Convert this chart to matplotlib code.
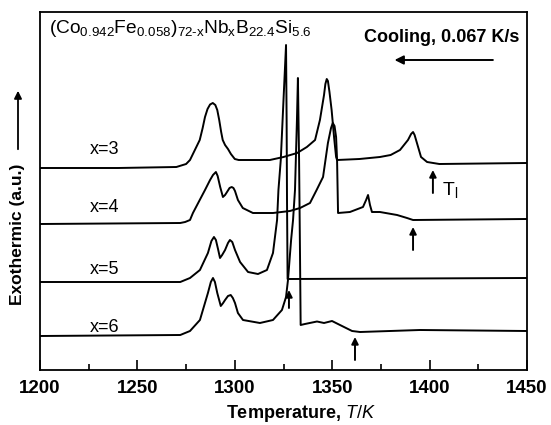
import matplotlib
matplotlib.use("Agg")
import matplotlib.pyplot as plt
from matplotlib.patches import FancyArrowPatch
from matplotlib.ticker import MultipleLocator

plt.rcParams['font.family'] = ['Liberation Sans', 'DejaVu Sans']
plt.rcParams['mathtext.fontset'] = 'custom'
plt.rcParams['mathtext.rm'] = 'Liberation Sans'
plt.rcParams['mathtext.it'] = 'Liberation Sans:italic'
plt.rcParams['mathtext.bf'] = 'Liberation Sans:bold'

# ---- data (temperature in K, exothermic signal in a.u., curves offset) ----
T_x3 = [1200, 1240, 1270, 1275, 1277, 1279.5, 1282, 1283.5, 1284.7, 1286, 1287.3, 1288.7,
        1290, 1291, 1292, 1293, 1293.8, 1295, 1296.5, 1298, 1300, 1302, 1308, 1318, 1325,
        1332, 1337, 1341.2, 1343.7, 1345.8, 1346.5, 1347.2, 1347.8, 1348.6, 1349.7, 1351,
        1352, 1352.5, 1364, 1374.5, 1380, 1384.8, 1388.9, 1390.5, 1391.5, 1392.3, 1393.5,
        1395.6, 1398.7, 1405, 1450]
S_x3 = [202, 202, 203, 206, 210, 220, 230, 242, 253, 261, 265.5, 267,
        265, 260, 250, 238, 230, 225, 221, 216, 211, 210, 210, 210, 213,
        217, 223, 230, 250, 275, 286, 291, 289, 278, 260, 232,
        213, 210, 211, 213, 215, 220, 230, 236, 238, 235, 227,
        213, 208, 206, 207]

T_x4 = [1200, 1272, 1274.5, 1277, 1278.5, 1282, 1284.7, 1287.3, 1288.8, 1290.3, 1291.2,
        1292.5, 1293.9, 1295, 1296, 1297.3, 1298.4, 1299.3, 1300.1, 1301.6, 1304.1, 1309.3,
        1319.6, 1328.3, 1333.5, 1338.6, 1342, 1345.3, 1347.8, 1349.4, 1350.3, 1351.2, 1352,
        1352.5, 1353, 1359.1, 1365.8, 1367.4, 1368.4, 1369.4, 1370.4, 1374.5, 1383.3, 1388.4,
        1391.5, 1450]
S_x4 = [146, 147, 148, 150, 157, 170, 180, 190, 195, 198, 194,
        183, 173, 175, 178, 182, 183, 182, 179, 170, 162, 157,
        157, 159, 162, 167, 180, 193, 227, 242, 247, 244, 233,
        210, 157, 158, 163, 170, 175, 165, 158, 158, 155, 152,
        150, 151]

T_x5 = [1200, 1272, 1277, 1282.1, 1286.2, 1288, 1289.3, 1290.3, 1291.5, 1292.4, 1293.5, 1295,
        1296.5, 1297.5, 1298.7, 1300.1, 1302.7, 1306.8, 1311.9, 1316.5, 1319.6, 1321.7, 1322.4,
        1323.6, 1325, 1326.3, 1326.6, 1326.8, 1327.1, 1328.3, 1450]
S_x5 = [88, 88, 92, 100, 117, 129, 133, 130, 120, 112, 115, 120,
        127, 130, 128, 120, 108, 98, 96, 100, 117, 150, 180,
        210, 270, 325, 250, 170, 91, 91, 92]

T_x6 = [1200, 1272, 1277, 1282.1, 1286.2, 1287.7, 1288.8, 1289.8, 1291, 1292.8, 1294, 1295,
        1296.5, 1297.9, 1299, 1300.1, 1301.6, 1304.2, 1312.9, 1319.6, 1324.2, 1326.3, 1327.3,
        1328.9, 1329.9, 1330.9, 1331.9, 1332.4, 1333, 1333.5, 1333.8, 1336, 1342.2, 1345.8,
        1349.9, 1354, 1360.2, 1364.3, 1395, 1450]
S_x6 = [34, 35, 39, 50, 77, 88, 92, 88, 77, 64, 67, 70,
        74, 75, 72, 67, 57, 50, 47, 50, 60, 73, 90,
        130, 150, 180, 250, 292, 210, 110, 45, 46, 48.5, 47,
        49, 45, 39, 38, 40, 39]

curve_T = [T_x3, T_x4, T_x5, T_x6]
curve_S = [S_x3, S_x4, S_x5, S_x6]
curve_labels = ['x=3', 'x=4', 'x=5', 'x=6']
label_T = 1233
label_S = [220, 162, 100, 42]

# liquidus arrows: (T, tail signal, head signal)
arrow_T = [1401.7, 1391.5, 1327.8, 1361.7]
arrow_tail = [177, 120, 62, 10]
arrow_head = [200, 143, 80, 33]

x_ticks = [1200, 1250, 1300, 1350, 1400, 1450]

# ---- figure ----
fig = plt.figure(figsize=(5.51, 4.25), dpi=100)
ax = fig.add_axes([40 / 551, 55 / 425, 487 / 551, 358 / 425])

for T, S in zip(curve_T, curve_S):
    ax.plot(T, S, color='black', lw=1.4, solid_joinstyle='round')

for lab, s in zip(curve_labels, label_S):
    ax.text(label_T, s, lab, ha='center', va='center', fontsize=13)

for t, a, b in zip(arrow_T, arrow_tail, arrow_head):
    ax.annotate('', xy=(t, b), xytext=(t, a),
                arrowprops=dict(arrowstyle='-|>', lw=1.4, color='black',
                                mutation_scale=10, shrinkA=0, shrinkB=0))

ax.text(1406.4, 175, r'T$_{\mathregular{l}}$', fontsize=14, ha='left', va='baseline')

ax.text(1204.5, 337,
        '(Co$_{\\mathregular{0.942}}$Fe$_{\\mathregular{0.058}}$)$_{\\mathregular{72\u2010x}}$'
        'Nb$_{\\mathregular{x}}$B$_{\\mathregular{22.4}}$Si$_{\\mathregular{5.6}}$',
        fontsize=13.8, ha='left', va='baseline')

ax.text(1446, 332, 'Cooling, 0.067 K/s', fontsize=13, fontweight='bold',
        ha='right', va='center')
ax.annotate('', xy=(1382, 310), xytext=(1432.5, 310),
            arrowprops=dict(arrowstyle='-|>', lw=1.4, color='black',
                            mutation_scale=13, shrinkA=0, shrinkB=0))

ax.set_xlim(1200, 1450)
ax.set_ylim(0, 358)
ax.set_xticks(x_ticks)
ax.xaxis.set_minor_locator(MultipleLocator(25))
ax.set_yticks([])
ax.tick_params(axis='x', which='major', direction='in', length=7, width=1.2,
               labelsize=13.5, pad=7)
ax.tick_params(axis='x', which='minor', direction='in', length=4, width=1.2)
for lbl in ax.get_xticklabels():
    lbl.set_fontweight('bold')
for sp in ax.spines.values():
    sp.set_linewidth(1.3)

fig.text(301 / 551, 7 / 425, r'Temperature, $\mathit{T/K}$', fontsize=13,
         fontweight='bold', ha='center', va='baseline')

fig.text(18 / 551, 191 / 425, 'Exothermic (a.u.)', fontsize=12.5, fontweight='bold',
         rotation=90, ha='center', va='center')
fig.patches.append(FancyArrowPatch(
    (18 / 551, 273 / 425), (18 / 551, 337 / 425), transform=fig.transFigure,
    arrowstyle='-|>', mutation_scale=11, lw=1.3, color='black'))

fig.savefig('out.png', dpi=100)
